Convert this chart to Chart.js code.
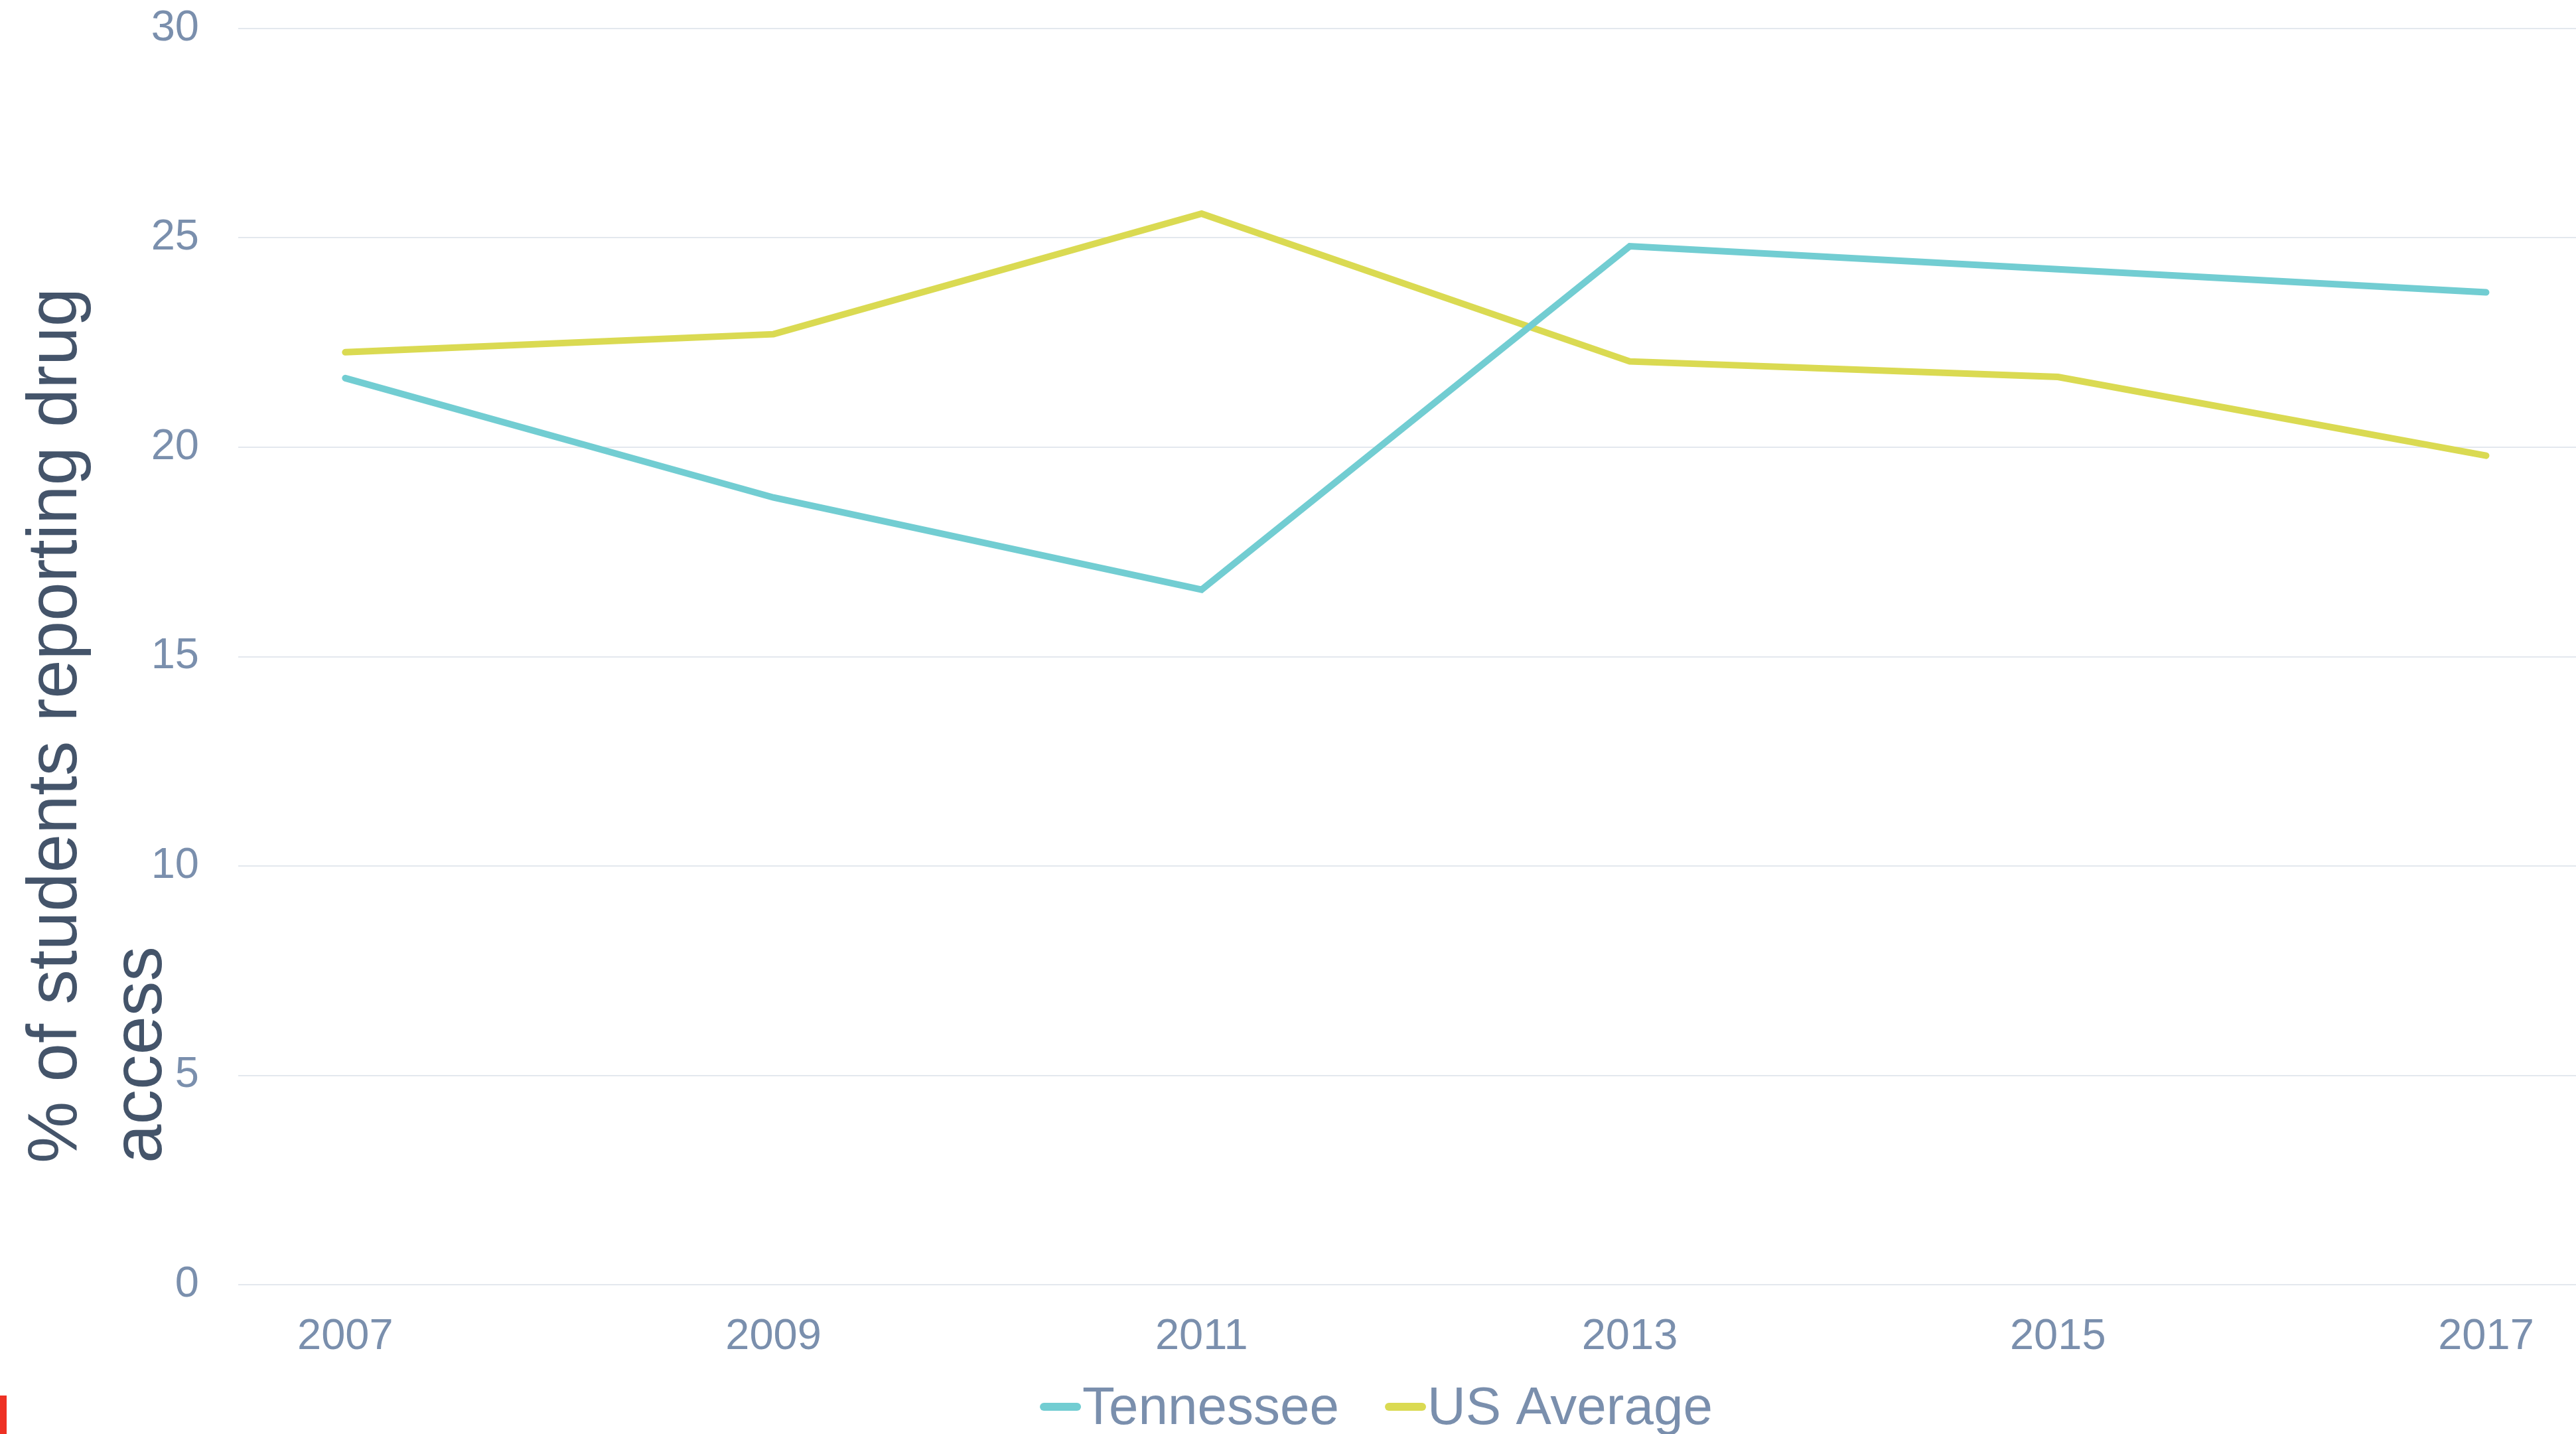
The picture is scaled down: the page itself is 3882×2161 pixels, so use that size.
<!DOCTYPE html>
<html lang="en">
<head>
    <meta charset="UTF-8">
    <title>Students reporting drug access</title>
    <script src="https://cdn.jsdelivr.net/npm/chart.js@4.4.1/dist/chart.umd.min.js"></script>
    <style>
        body {
            margin: 0;
            padding: 0;
            background-color: #ffffff;
        }
        .chart-wrap {
            position: relative;
            width: 3882px;
            height: 2161px;
        }
        /* little red tab in the bottom-left corner of the original */
        .corner-mark {
            position: absolute;
            left: 0;
            top: 2103px;
            width: 10px;
            height: 58px;
            background-color: #ee3124;
        }
    </style>
</head>
<body>
    <div class="chart-wrap">
        <canvas id="accessChart"></canvas>
        <div class="corner-mark"></div>
    </div>

    <script>
        // Data
        const years = [2007, 2009, 2011, 2013, 2015, 2017];
        const tennessee = [21.65, 18.8, 16.6, 24.8, 24.25, 23.7];
        const usAverage = [22.27, 22.7, 25.58, 22.05, 21.68, 19.8];
        const yTicks = [0, 5, 10, 15, 20, 25, 30];
        const seriesNames = ['Tennessee', 'US Average'];
        const yTitleLines = ['% of students reporting drug', 'access'];

        const colors = ['#72cdd2', '#dada52'];
        const tickColor = '#7a8fad';
        const titleColor = '#44546a';
        const fontFamily = '"Liberation Sans", Arial, Helvetica, sans-serif';

        Chart.defaults.font.family = fontFamily;

        function toPoints(values) {
            return years.map(function(yr, i) { return { x: yr, y: values[i] }; });
        }

        // Draws the rotated y title and the legend the way the original does
        const decorPlugin = {
            id: 'decor',
            afterDraw: function(chart) {
                const ctx = chart.ctx;
                const area = chart.chartArea;

                // y axis title, two lines, starting near the bottom
                ctx.save();
                ctx.fillStyle = titleColor;
                ctx.font = '105px ' + fontFamily;
                ctx.textAlign = 'left';
                ctx.textBaseline = 'alphabetic';
                ctx.translate(115, area.bottom - 183);
                ctx.rotate(-Math.PI / 2);
                yTitleLines.forEach(function(line, i) {
                    ctx.fillText(line, 0, i * 128);
                });
                ctx.restore();

                // legend
                ctx.save();
                ctx.font = '80px ' + fontFamily;
                ctx.textBaseline = 'alphabetic';
                ctx.textAlign = 'left';
                const markW = 62, gapAfterMark = 2, itemGap = 69;
                let total = 0;
                const widths = seriesNames.map(function(name) { return ctx.measureText(name).width; });
                widths.forEach(function(w, i) { total += markW + gapAfterMark + w + (i > 0 ? itemGap : 0); });
                let x = 2074 - total / 2;
                const markY = area.bottom + 184;
                const textY = area.bottom + 210;
                seriesNames.forEach(function(name, i) {
                    if (i > 0) x += itemGap;
                    ctx.strokeStyle = colors[i];
                    ctx.lineWidth = 12;
                    ctx.lineCap = 'round';
                    ctx.beginPath();
                    ctx.moveTo(x + 6, markY);
                    ctx.lineTo(x + markW - 6, markY);
                    ctx.stroke();
                    x += markW + gapAfterMark;
                    ctx.fillStyle = tickColor;
                    ctx.fillText(name, x, textY);
                    x += widths[i];
                });
                ctx.restore();
            }
        };

        document.addEventListener('DOMContentLoaded', function() {
            const ctx = document.getElementById('accessChart').getContext('2d');

            new Chart(ctx, {
                type: 'line',
                data: {
                    datasets: [{
                        label: seriesNames[0],
                        data: toPoints(tennessee),
                        borderColor: colors[0],
                        backgroundColor: colors[0],
                        borderWidth: 10,
                        borderCapStyle: 'round',
                        borderJoinStyle: 'miter',
                        pointRadius: 0,
                        tension: 0,
                        fill: false
                    }, {
                        label: seriesNames[1],
                        data: toPoints(usAverage),
                        borderColor: colors[1],
                        backgroundColor: colors[1],
                        borderWidth: 10,
                        borderCapStyle: 'round',
                        borderJoinStyle: 'miter',
                        pointRadius: 0,
                        tension: 0,
                        fill: false
                    }]
                },
                options: {
                    responsive: true,
                    maintainAspectRatio: false,
                    animation: false,
                    devicePixelRatio: 1,
                    layout: {
                        padding: { top: 43, left: 0, right: 0, bottom: 0 }
                    },
                    plugins: {
                        legend: { display: false },
                        tooltip: { enabled: false }
                    },
                    scales: {
                        x: {
                            type: 'linear',
                            min: 2006.5,
                            max: 2017.42,
                            afterBuildTicks: function(axis) {
                                axis.ticks = years.map(function(v) { return { value: v }; });
                            },
                            afterFit: function(axis) {
                                axis.height = 225;
                                axis.paddingLeft = 0;
                                axis.paddingRight = 0;
                            },
                            grid: { display: false, drawTicks: false },
                            border: { display: false },
                            ticks: {
                                color: tickColor,
                                font: { size: 65 },
                                padding: 40,
                                maxRotation: 0,
                                autoSkip: false,
                                callback: function(value) { return String(value); }
                            }
                        },
                        y: {
                            min: 0,
                            max: 30,
                            afterBuildTicks: function(axis) {
                                axis.ticks = yTicks.map(function(v) { return { value: v }; });
                            },
                            afterFit: function(axis) {
                                axis.width = 359;
                                axis.paddingTop = 0;
                                axis.paddingBottom = 0;
                            },
                            grid: {
                                color: '#e3e8ee',
                                lineWidth: 2,
                                drawTicks: false
                            },
                            border: { display: false },
                            ticks: {
                                color: tickColor,
                                font: { size: 65 },
                                padding: 59
                            }
                        }
                    }
                },
                plugins: [decorPlugin]
            });
        });
    </script>
</body>
</html>
